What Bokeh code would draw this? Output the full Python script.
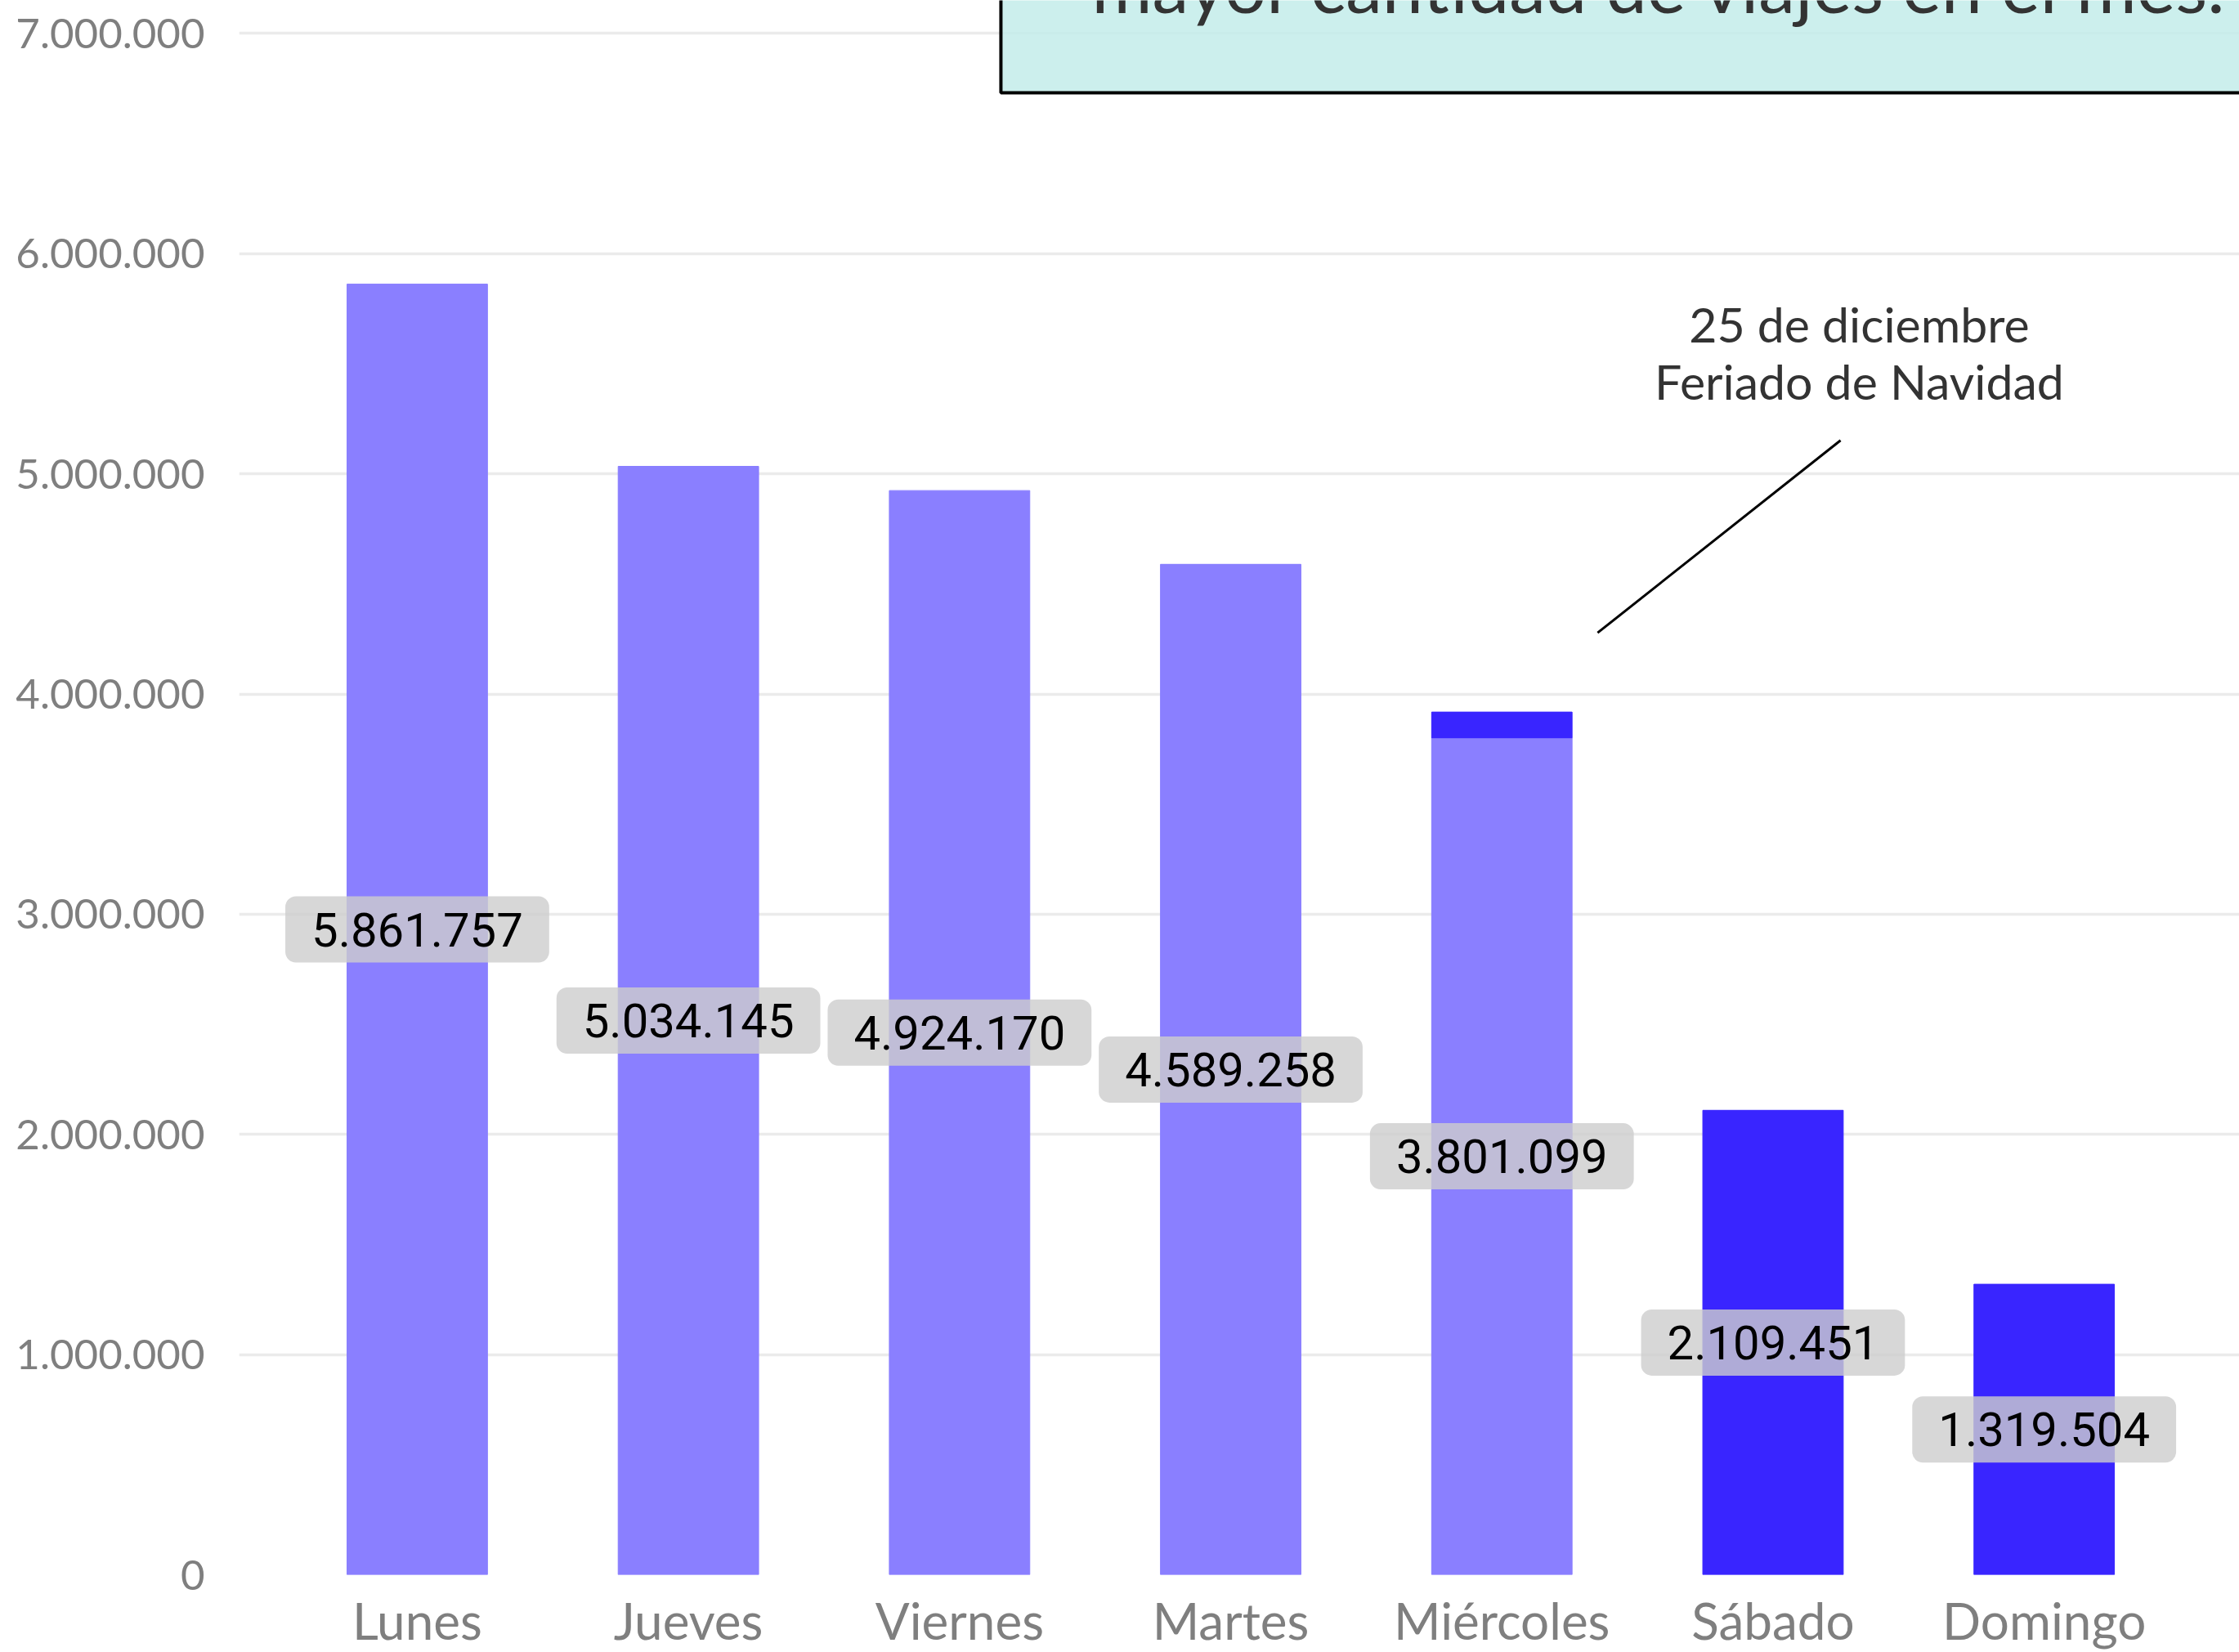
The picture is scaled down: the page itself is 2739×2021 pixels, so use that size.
from bokeh.plotting import figure
from bokeh.models import Range1d, FixedTicker, Label, ColumnDataSource
from bokeh.embed import file_html
from bokeh.resources import INLINE
from bokeh.core.properties import value

# ---------------- data ----------------
dias = ["Lunes", "Jueves", "Viernes", "Martes", "Miércoles", "Sábado", "Domingo"]
viajes = [5861757, 5034145, 4924170, 4589258, 3801099, 2109451, 1319504]
fin_de_semana = [False, False, False, False, False, True, True]
feriado_dia = "Miércoles"
feriado_viajes = 117000
y_ticks = [0, 1000000, 2000000, 3000000, 4000000, 5000000, 6000000, 7000000]
nota = ["25 de diciembre", "Feriado de Navidad"]
titulo_visible = "mayor cantidad de viajes en el mes."

# ---------------- styles ----------------
C_LIGHT = "#8A7FFF"
C_DARK = "#3925FF"
AXIS_FONT = "Lato"
VAL_FONT = "Roboto"

p = figure(width=2739, height=2021, output_backend="svg", toolbar_location=None,
           x_range=Range1d(-0.657, 6.720), y_range=Range1d(0, 7150300),
           min_border_left=292, min_border_right=0, min_border_top=0, min_border_bottom=94)
p.outline_line_color = None
p.background_fill_color = "white"
p.border_fill_color = "white"
p.xgrid.visible = False
p.ygrid.grid_line_color = "#EBEBEB"
p.ygrid.grid_line_width = 3.5

xs = list(range(len(dias)))
src = ColumnDataSource(dict(
    x=xs, top=viajes,
    color=[C_DARK if f else C_LIGHT for f in fin_de_semana],
))
p.vbar(x="x", top="top", width=0.518, color="color", source=src)

# extra segment (holiday) on top of Miércoles
i_fer = dias.index(feriado_dia)
p.vbar(x=[i_fer], bottom=[viajes[i_fer]], top=[viajes[i_fer] + feriado_viajes],
       width=0.518, color=C_DARK)

# axes
p.yaxis.ticker = FixedTicker(ticks=y_ticks)
p.yaxis.major_label_overrides = {t: f"{t:,}".replace(",", ".") for t in y_ticks}
p.xaxis.ticker = FixedTicker(ticks=xs)
p.xaxis.major_label_overrides = {i: d for i, d in enumerate(dias)}
for ax in (p.xaxis, p.yaxis):
    ax.axis_line_color = None
    ax.major_tick_line_color = None
    ax.minor_tick_line_color = None
    ax.major_tick_out = 0
    ax.major_tick_in = 0
    ax.major_label_text_color = "#7F7F7F"
    ax.major_label_text_font = AXIS_FONT
p.yaxis.major_label_text_font_size = "51px"
p.yaxis.major_label_standoff = 42
p.xaxis.major_label_text_font_size = "62px"
p.xaxis.major_label_standoff = 18

# value labels
for i, v in enumerate(viajes):
    p.add_layout(Label(x=i, y=v / 2, text=f"{v:,}".replace(",", "."),
                       text_align="center", text_baseline="middle",
                       text_font=VAL_FONT, text_font_size="58px", text_color="#000000",
                       background_fill_color="#CDCDCD", background_fill_alpha=0.8,
                       border_radius=13, padding=(32, 20)))

# title box (cropped at the top of the image)
p.quad(left=[2.1525], right=[8.0], bottom=[6731000], top=[9000000],
       fill_color="#C3ECEA", fill_alpha=0.85, line_color="black", line_width=4)
p.text(x=[4.5825], y=[7000000], y_offset=[-60], text=[titulo_visible], text_align="center",
       text_baseline="alphabetic", text_font=value("Lato"), text_font_size="90px",
       text_color="#333333")

# annotation
p.segment(x0=[4.353], y0=[4278000], x1=[5.249], y1=[5152000], line_color="black", line_width=3)
p.add_layout(Label(x=5.318, y=5680900, text=nota[0], text_align="center",
                   text_baseline="alphabetic", text_font="Lato", text_font_size="59px",
                   text_color="#333333"))
p.add_layout(Label(x=5.318, y=5421200, text=nota[1], text_align="center",
                   text_baseline="alphabetic", text_font="Lato", text_font_size="59px",
                   text_color="#333333"))

open("out.html", "w").write(file_html(p, INLINE))
